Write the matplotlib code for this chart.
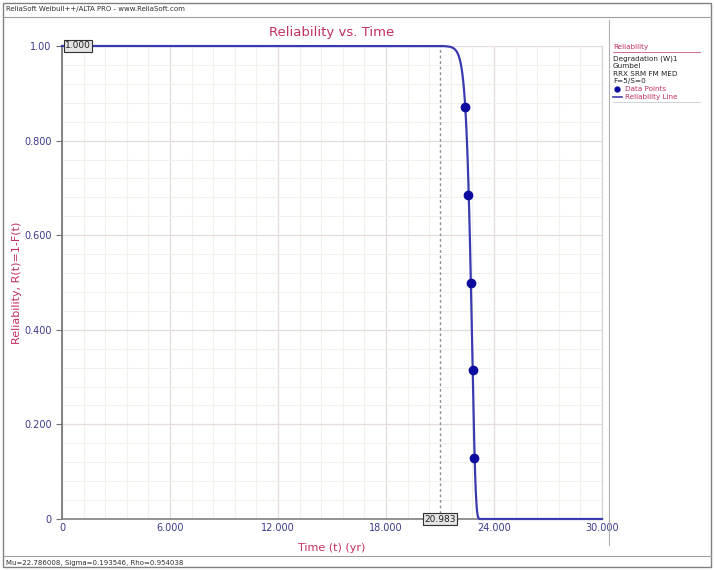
import numpy as np
import matplotlib
matplotlib.use("Agg")
import matplotlib.pyplot as plt
from matplotlib.lines import Line2D
from matplotlib.patches import Rectangle

# Gumbel fit parameters
mu = 22.786008
sigma = 0.193546
rho = 0.954038
t_mark = 20.983

# failure times and median-rank reliabilities
fail_t = [22.39, 22.57, 22.74, 22.83, 22.90]
fail_r = [0.8704, 0.6852, 0.5000, 0.3148, 0.1296]

x_ticks = [0, 6, 12, 18, 24, 30]
x_tick_labels = ["0", "6.000", "12.000", "18.000", "24.000", "30.000"]
y_ticks = [0, 0.2, 0.4, 0.6, 0.8, 1.0]
y_tick_labels = ["0", "0.200", "0.400", "0.600", "0.800", "1.00"]

legend_lines = ["Degradation (W)1", "Gumbel", "RRX SRM FM MED", "F=5/S=0"]

red = "#c2305c"
navy = "#3a3a8c"
line_blue = "#3b3bb0"
pt_blue = "#0b0b9e"

fig = plt.figure(figsize=(7.14, 5.70), dpi=100)
ax = fig.add_axes([62 / 714, 1 - 519 / 570, 540 / 714, 473 / 570])

# reliability curve
t = np.linspace(0, 30, 3001)
r = np.exp(-np.exp((t - mu) / sigma))
ax.plot(t, r, color=line_blue, lw=1.6, zorder=4, clip_on=False)
ax.plot(fail_t, fail_r, "o", color=pt_blue, ms=6, zorder=5)

# marker line at the 20.983 time value
ax.axvline(t_mark, color="#909090", lw=1.0, ls=(0, (2, 2)), zorder=3)

ax.set_xlim(0, 30)
ax.set_ylim(0, 1)
ax.set_xticks(x_ticks)
ax.set_xticklabels(x_tick_labels)
ax.set_yticks(y_ticks)
ax.set_yticklabels(y_tick_labels)
ax.set_xticks(np.arange(0, 30.01, 1.2), minor=True)
ax.set_yticks(np.arange(0, 1.001, 0.04), minor=True)
ax.grid(which="minor", color="#edf2eb", lw=0.8)
ax.grid(which="major", color="#e6dcdc", lw=0.9)
ax.tick_params(which="minor", length=0)
ax.tick_params(which="major", length=4, color="#707070", labelsize=7,
               labelcolor=navy)
ax.tick_params(axis="x", length=0, pad=3)

ax.spines["top"].set_visible(False)
ax.spines["right"].set_color("#d0d0d0")
ax.spines["left"].set_color("#707070")
ax.spines["bottom"].set_color("#808080")
ax.spines["left"].set_linewidth(1.2)
ax.spines["bottom"].set_linewidth(1.2)

ax.set_title("Reliability vs. Time", color=red, fontsize=9.5, pad=7)
ax.set_xlabel("Time (t) (yr)", color=red, fontsize=8)
ax.set_ylabel("Reliability, R(t)=1-F(t)", color=red, fontsize=8)
ax.xaxis.set_label_coords(0.5, -24 / 473)
ax.yaxis.set_label_coords(-40 / 540, 0.5)

# boxed value labels on the axes
box = dict(boxstyle="square,pad=0.12", fc="#e4e4e4", ec="#303030", lw=0.8)
ax.text(0.15, 1.0, "1.000", fontsize=6.5, color="#202020", va="center",
        ha="left", bbox=box, zorder=6)
ax.text(t_mark, 0.0, "20.983", fontsize=6.5, color="#202020", va="center",
        ha="center", bbox=box, zorder=6, clip_on=False)

# window frame, title bar and status bar
fig.patches.append(Rectangle((3 / 714, 3 / 570), 708 / 714, 564 / 570,
                             transform=fig.transFigure, fill=False,
                             ec="#808080", lw=1.0))
fig.add_artist(Line2D([3 / 714, 711 / 714], [1 - 17 / 570] * 2,
                      color="#a0a0a0", lw=0.8))
fig.add_artist(Line2D([3 / 714, 711 / 714], [1 - 556 / 570] * 2,
                      color="#a0a0a0", lw=0.8))
fig.add_artist(Line2D([609 / 714] * 2, [1 - 545 / 570, 1 - 20 / 570],
                      color="#b0b0b0", lw=0.8))
fig.text(6 / 714, 1 - 9 / 570, "ReliaSoft Weibull++/ALTA PRO - www.ReliaSoft.com",
         fontsize=5, color="#303030", va="center")
fig.text(6 / 714, 1 - 563 / 570,
         f"Mu={mu:.6f}, Sigma={sigma:.6f}, Rho={rho:.6f}",
         fontsize=5, color="#303030", va="center")

# legend panel
lx = 613 / 714
fs = 5.2
fig.text(lx, 1 - 47 / 570, "Reliability", fontsize=fs, color=red, va="center")
fig.add_artist(Line2D([lx, 700 / 714], [1 - 52 / 570] * 2, color=red, lw=0.5))
for i, s in enumerate(legend_lines):
    fig.text(lx, 1 - (59 + 7.3 * i) / 570, s, fontsize=fs, color="#202020",
             va="center")
fig.add_artist(Line2D([lx + 4 / 714], [1 - 89 / 570], marker="o", ms=3.5,
                      color=pt_blue, ls="none"))
fig.text(lx + 12 / 714, 1 - 89 / 570, "Data Points", fontsize=fs, color=red,
         va="center")
fig.add_artist(Line2D([lx, lx + 9 / 714], [1 - 96.5 / 570] * 2,
                      color=line_blue, lw=1.2))
fig.text(lx + 12 / 714, 1 - 96.5 / 570, "Reliability Line", fontsize=fs,
         color=red, va="center")
fig.add_artist(Line2D([lx, 700 / 714], [1 - 102 / 570] * 2, color="#c0c0c0",
                      lw=0.5))

fig.savefig("out.png", dpi=100)
